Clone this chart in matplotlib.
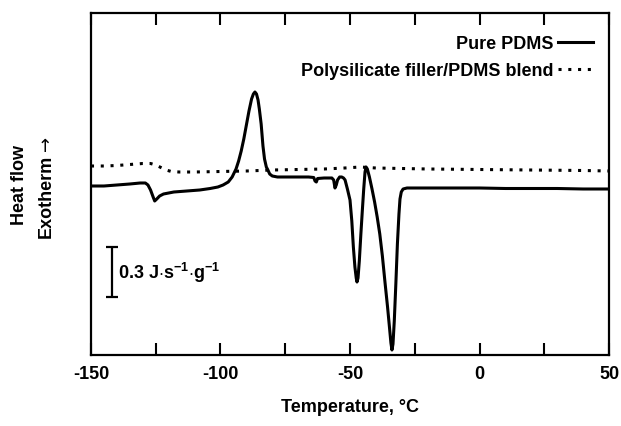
import numpy as np
import matplotlib
matplotlib.use('Agg')
import matplotlib.pyplot as plt
from matplotlib.lines import Line2D

plt.rcParams['font.family'] = ['Liberation Sans', 'DejaVu Sans']
plt.rcParams['mathtext.fontset'] = 'custom'
plt.rcParams['mathtext.rm'] = 'Liberation Sans'
plt.rcParams['mathtext.bf'] = 'Liberation Sans:bold'
plt.rcParams['axes.unicode_minus'] = False

# DSC traces, temperature in degC, heat flow in mW/g (arbitrary offset)
temp_pure = [-150, -145, -140, -135, -131, -129, -128, -127, -126, -125.4,
             -124.6, -123.5, -122, -118, -113, -108, -104, -101, -99, -97,
             -95.5, -94, -93, -92, -91, -90, -89, -88, -87.3, -86.7,
             -86.1, -85.5, -85, -84.3, -83.6, -83, -82.3, -81.7, -81, -80,
             -78, -72, -66, -64, -63.5, -63, -62.5, -60, -57, -56.3,
             -55.8, -55.3, -54.8, -54, -53.2, -52.5, -51.9, -51, -50, -49.3,
             -48.7, -48.1, -47.6, -47.3, -46.9, -46.4, -45.8, -45.2, -44.7, -44.2,
             -43.8, -43.3, -42.5, -41.5, -40.5, -39.5, -38.5, -37.5, -36.5, -35.5,
             -34.7, -34.2, -33.8, -33.4, -32.9, -32.3, -31.7, -31.1, -30.7, -30.2,
             -29.5, -28, -20, -10, 0, 10, 20, 30, 40, 50]
flow_pure = [1014, 1014, 1020, 1026, 1032, 1032, 1020, 990, 948, 924,
             936, 954, 966, 978, 984, 990, 999, 1008, 1020, 1038,
             1068, 1116, 1164, 1224, 1296, 1380, 1464, 1536, 1566, 1578,
             1566, 1530, 1476, 1386, 1254, 1176, 1128, 1110, 1086, 1074,
             1068, 1068, 1068, 1065, 1044, 1038, 1059, 1062, 1062, 1050,
             1002, 1020, 1050, 1068, 1068, 1062, 1050, 996, 930, 804,
             648, 528, 462, 438, 462, 564, 726, 876, 996, 1098,
             1128, 1116, 1068, 996, 918, 828, 726, 594, 438, 288,
             156, 72, 30, 66, 204, 426, 666, 846, 936, 978,
             996, 1002, 1002, 1002, 1002, 999, 999, 999, 996, 996]

temp_blend = [-150, -145, -140, -135, -130, -127, -125, -123, -121, -119,
              -116, -110, -100, -90, -80, -70, -60, -52, -46, -40,
              -30, -20, 0, 20, 40, 50]
flow_blend = [1134, 1134, 1137, 1143, 1149, 1149, 1140, 1125, 1110, 1101,
              1098, 1098, 1101, 1104, 1110, 1113, 1116, 1122, 1128, 1122,
              1119, 1116, 1113, 1110, 1107, 1104]

# 0.3 J/s/g scale bar
bar_temp = -141.9
bar_centre = 498
bar_half = 150

fig = plt.figure(figsize=(6.21, 4.27), dpi=100)
ax = fig.add_axes([0.1465, 0.1663, 0.8342, 0.8009])

ax.plot(temp_pure, flow_pure, color='black', lw=2.2, solid_joinstyle='round')
ax.plot(temp_blend, flow_blend, color='black', lw=2.2, linestyle=(0, (1, 2.2)))

ax.errorbar([bar_temp], [bar_centre], yerr=[bar_half], fmt='none', ecolor='black',
            elinewidth=1.6, capsize=4.3, capthick=1.6)
ax.text(bar_temp + 2.2, bar_centre, r'0.3 J$\cdot$s$^{\mathbf{-1}}$$\cdot$g$^{\mathbf{-1}}$',
        fontsize=13, fontweight='bold', va='center', ha='left')

ax.set_xlim(-150, 50)
ax.set_ylim(0, 2052)
ax.set_xticks(np.arange(-150, 51, 50))
ax.set_xticks(np.arange(-125, 50, 50), minor=True)
ax.tick_params(axis='x', which='both', direction='in', top=True, length=8.5,
               width=1.5, labelsize=13, pad=7)
ax.set_yticks([])
for lab in ax.get_xticklabels():
    lab.set_fontweight('bold')
for s in ax.spines.values():
    s.set_linewidth(1.6)

ax.set_xlabel('Temperature, °C', fontsize=13, fontweight='bold', labelpad=12)

# two-line y label: "Heat flow" / "Exotherm ->"
fig.text(19 / 621, 1 - 185 / 427, 'Heat flow', rotation=90, fontsize=13,
         fontweight='bold', ha='center', va='center')
fig.text(46 / 621, 1 - 196 / 427, 'Exotherm', rotation=90, fontsize=13,
         fontweight='bold', ha='center', va='center')
fig.text(45.5 / 621, 1 - 143 / 427, '\u2192', rotation=90, fontsize=13,
         family='DejaVu Sans', ha='center', va='center')

handles = [Line2D([], [], color='black', lw=2.2),
           Line2D([], [], color='black', lw=2.2, linestyle=(0, (1, 2.2)))]
leg = ax.legend(handles, ['Pure PDMS', 'Polysilicate filler/PDMS blend'],
                loc='upper right', bbox_to_anchor=(1, 0.982), frameon=False,
                markerfirst=False, handlelength=1.95, handletextpad=0.25,
                labelspacing=0.55, prop={'size': 13, 'weight': 'bold'})

fig.savefig('out.png', dpi=100)
